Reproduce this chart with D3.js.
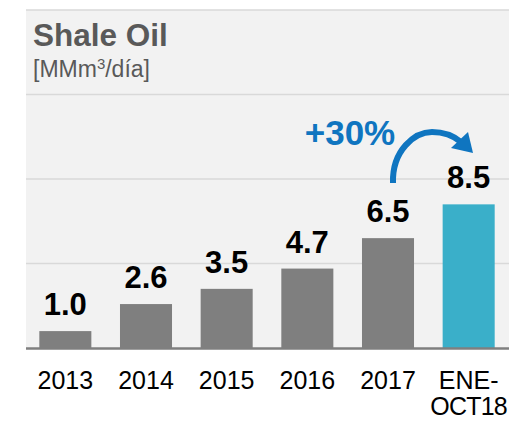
<!DOCTYPE html>
<html><head><meta charset="utf-8">
<script src="https://cdn.jsdelivr.net/npm/d3@7"></script>
<style>html,body{margin:0;padding:0;background:#fff;}</style>
</head><body>
<script>
const categories = ["2013","2014","2015","2016","2017","ENE-OCT18"];
const tickLabels = [["2013"],["2014"],["2015"],["2016"],["2017"],["ENE-","OCT18"]];
const values = [1.0, 2.6, 3.5, 4.7, 6.5, 8.5];
const valueLabels = ["1.0","2.6","3.5","4.7","6.5","8.5"];
const gridTicks = [5, 10, 15, 20];
const title = "Shale Oil";
const growthLabel = "+30%";

(function() {
const W = 523, H = 422;
const svg = d3.select("body").append("svg").attr("width", W).attr("height", H)
  .style("font-family", "'Liberation Sans', Arial, sans-serif");

const pl = 26, pr = 509, pt = 10, pb = 348;
const x = d3.scaleBand().domain(categories).range([25, 509]).paddingInner(0.355).paddingOuter(0.1775);
const y = d3.scaleLinear().domain([0, 20]).range([pb, pt]);

svg.append("rect").attr("x", pl).attr("y", pt).attr("width", pr - pl).attr("height", pb - pt).attr("fill", "#f2f2f2");

svg.append("g").selectAll("line").data(gridTicks).join("line")
  .attr("x1", pl).attr("x2", pr)
  .attr("y1", d => y(d)).attr("y2", d => y(d))
  .attr("stroke", "#d9d9d9").attr("stroke-width", 1.5);

svg.append("g").selectAll("rect").data(values).join("rect")
  .attr("x", (d, i) => x(categories[i]))
  .attr("width", x.bandwidth())
  .attr("y", d => y(d))
  .attr("height", d => pb - y(d))
  .attr("fill", (d, i) => i === values.length - 1 ? "#3aafc9" : "#7f7f7f");

svg.append("line").attr("x1", pl).attr("x2", pr).attr("y1", pb + 0.5).attr("y2", pb + 0.5)
  .attr("stroke", "#7f7f7f").attr("stroke-width", 2.5);

svg.append("g").selectAll("text").data(values).join("text")
  .attr("x", (d, i) => x(categories[i]) + x.bandwidth() / 2)
  .attr("y", d => y(d) - 16)
  .attr("text-anchor", "middle")
  .attr("font-size", 31).attr("font-weight", "bold").attr("fill", "#000")
  .text((d, i) => valueLabels[i]);

const tg = svg.append("g").selectAll("text").data(categories).join("text")
  .attr("x", d => x(d) + x.bandwidth() / 2)
  .attr("y", 389)
  .attr("text-anchor", "middle")
  .attr("font-size", 25).attr("fill", "#000");
tg.each(function(d, i) {
  const t = d3.select(this);
  tickLabels[i].forEach((s, j) => {
    t.append("tspan").attr("x", x(d) + x.bandwidth() / 2).attr("dy", j === 0 ? 0 : 26)
      .attr("letter-spacing", s.length > 4 ? -0.8 : 0).text(s);
  });
});

svg.append("text").attr("x", 33).attr("y", 46).attr("font-size", 31.5).attr("font-weight", "bold")
  .attr("fill", "#595959").text(title);
const sub = svg.append("text").attr("x", 33).attr("y", 77).attr("font-size", 23).attr("fill", "#595959");
sub.append("tspan").text("[MMm");
sub.append("tspan").attr("font-size", 15).attr("dy", -8).text("3");
sub.append("tspan").attr("dy", 8).text("/día]");

svg.append("text").attr("x", 350).attr("y", 145).attr("text-anchor", "middle")
  .attr("font-size", 35).attr("font-weight", "bold").attr("fill", "#0f75c0").text(growthLabel);

svg.append("path").attr("d", "M393,183 C392,150 415,132 432,132 C446,132 455,137 461,142")
  .attr("fill", "none").attr("stroke", "#0f75c0").attr("stroke-width", 6);
svg.append("path").attr("d", "M473,153 L451,148 L468,132 Z").attr("fill", "#0f75c0");
})();
</script>
</body></html>
